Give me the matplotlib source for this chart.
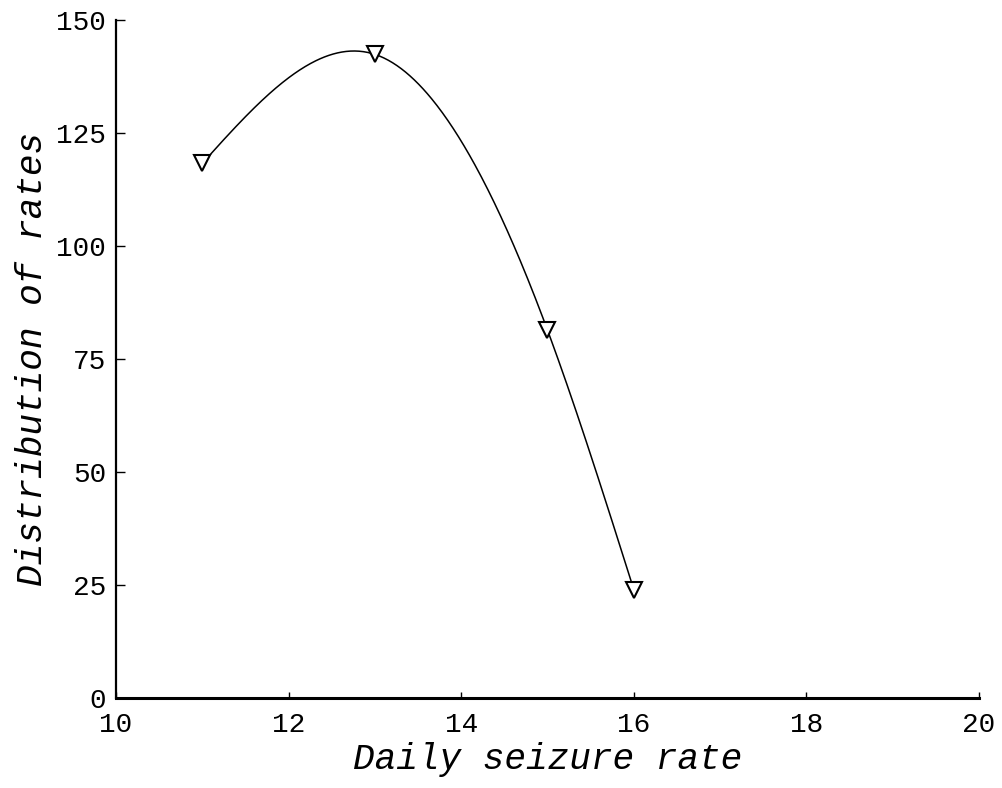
import numpy as np
import matplotlib
matplotlib.use("Agg")
import matplotlib.pyplot as plt

# Data
seizure_rate = [11, 13, 15, 16]
distribution = [118.3, 142.4, 81.4, 24.0]
x_ticks = [10, 12, 14, 16, 18, 20]
y_ticks = [0, 25, 50, 75, 100, 125, 150]


def natural_spline(x, y, n=400):
    x = np.asarray(x, float)
    y = np.asarray(y, float)
    m = len(x)
    h = np.diff(x)
    A = np.zeros((m, m))
    b = np.zeros(m)
    A[0, 0] = 1
    A[-1, -1] = 1
    for i in range(1, m - 1):
        A[i, i - 1] = h[i - 1]
        A[i, i] = 2 * (h[i - 1] + h[i])
        A[i, i + 1] = h[i]
        b[i] = 6 * ((y[i + 1] - y[i]) / h[i] - (y[i] - y[i - 1]) / h[i - 1])
    M = np.linalg.solve(A, b)
    xs = np.linspace(x[0], x[-1], n)
    ys = np.empty_like(xs)
    for k, xv in enumerate(xs):
        i = min(np.searchsorted(x, xv, side="right") - 1, m - 2)
        t1 = x[i + 1] - xv
        t0 = xv - x[i]
        ys[k] = (M[i] * t1 ** 3 + M[i + 1] * t0 ** 3) / (6 * h[i]) \
            + (y[i] / h[i] - M[i] * h[i] / 6) * t1 \
            + (y[i + 1] / h[i] - M[i + 1] * h[i] / 6) * t0
    return xs, ys


fig = plt.figure(figsize=(10.03, 7.88), dpi=100)
ax = fig.add_axes([0.1157, 0.1142, 0.976 - 0.1157, 0.9746 - 0.1142])

xs, ys = natural_spline(seizure_rate, distribution)
ax.plot(xs, ys, color="black", lw=1.1, zorder=2)
ax.plot(seizure_rate, distribution, linestyle="none", marker="v", ms=11,
        mfc="white", mec="black", mew=1.5, zorder=3)

ax.set_xlim(10, 20)
ax.set_ylim(0, 150)
ax.set_xticks(x_ticks)
ax.set_yticks(y_ticks)

for s in ["top", "right"]:
    ax.spines[s].set_visible(False)
ax.spines["left"].set_linewidth(1.6)
ax.spines["bottom"].set_linewidth(2.2)

mono = "Liberation Mono"
ax.tick_params(axis="y", direction="in", length=6.5, width=1.0, pad=7,
               labelsize=20)
ax.tick_params(axis="x", direction="in", length=4.5, width=1.0, pad=10,
               labelsize=20)
for lab in ax.get_xticklabels() + ax.get_yticklabels():
    lab.set_family(mono)

ax.set_xlabel("Daily seizure rate", family=mono, style="italic",
              fontsize=26, labelpad=3)
ax.set_ylabel("Distribution of rates", family=mono, style="italic",
              fontsize=26, labelpad=5)

fig.savefig("out.png", dpi=100)
